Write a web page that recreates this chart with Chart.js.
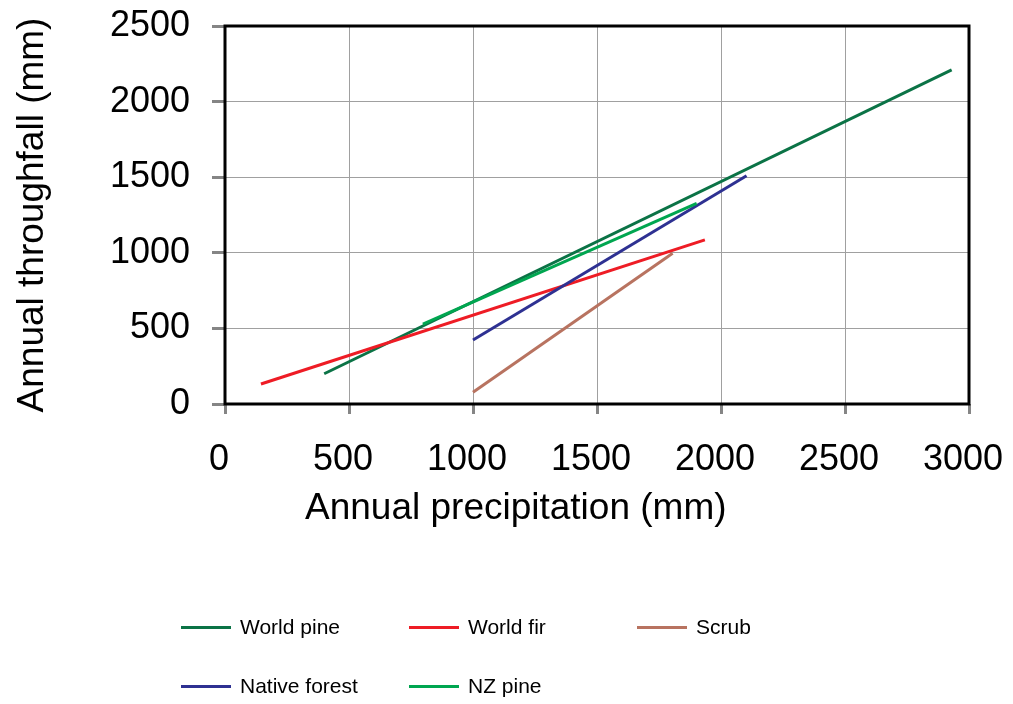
<!DOCTYPE html>
<html>
<head>
<meta charset="utf-8">
<script src="https://cdn.jsdelivr.net/npm/chart.js@4/dist/chart.umd.min.js"></script>
<style>
  html, body { margin:0; padding:0; background:#fff; }
  #wrap { position:relative; width:1013px; height:704px; }
  #chart { position:absolute; left:0; top:0; }
  .leg { position:absolute; font-family:"Liberation Sans", Arial, sans-serif; font-size:21px; color:#000; line-height:1; white-space:nowrap; }
  .leg i { position:absolute; width:50px; height:3px; }
  .leg span { position:absolute; }
</style>
</head>
<body>
<div id="wrap">
  <canvas id="chart" width="1013" height="704"></canvas>
  <div id="legend"></div>
</div>
<script>
// ===== Datos (extremos de cada recta de regresión) =====
const worldPineX    = [400, 2930];
const worldPineY    = [200, 2210];
const worldFirX     = [145, 1935];
const worldFirY     = [132, 1085];
const scrubX        = [1000, 1805];
const scrubY        = [78, 997];
const nativeForestX = [1000, 2103];
const nativeForestY = [423, 1510];
const nzPineX       = [798, 1902];
const nzPineY       = [529, 1327];

const seriesNames  = ['World pine', 'World fir', 'Scrub', 'Native forest', 'NZ pine'];
const seriesColors = ['#0b7346', '#ee1c25', '#b87360', '#2e3192', '#00a650'];

const xTicks = [0, 500, 1000, 1500, 2000, 2500, 3000];
const yTicks = [0, 500, 1000, 1500, 2000, 2500];

const xTitle = 'Annual precipitation (mm)';
const yTitle = 'Annual throughfall (mm)';

const FONT = '"Liberation Sans", Arial, sans-serif';

function toPoints(xs, ys){ return xs.map((x, i) => ({x, y: ys[i]})); }

const seriesData = [
  toPoints(worldPineX, worldPineY),
  toPoints(worldFirX, worldFirY),
  toPoints(scrubX, scrubY),
  toPoints(nativeForestX, nativeForestY),
  toPoints(nzPineX, nzPineY)
];

// orden de dibujo: NZ pine encima de World pine
const drawOrder = [4, 3, 2, 1, 0];

const datasets = seriesNames.map((name, i) => ({
  label: name,
  data: seriesData[i],
  showLine: true,
  borderColor: seriesColors[i],
  backgroundColor: seriesColors[i],
  borderWidth: 3,
  pointRadius: 0,
  fill: false,
  order: drawOrder[i]
}));

// tamaño fijo de los ejes, sin relleno extra por las etiquetas
function fixScale(s, size){
  if(s.isHorizontal()) s.height = size; else s.width = size;
  s.paddingTop = 0; s.paddingBottom = 0; s.paddingLeft = 0; s.paddingRight = 0;
}

// marco negro y títulos de ejes
const framePlugin = {
  id: 'frame',
  afterDatasetsDraw(chart){
    const {ctx, chartArea:{left, top, right, bottom}} = chart;
    ctx.save();
    ctx.strokeStyle = '#000';
    ctx.lineWidth = 3;
    ctx.strokeRect(left, top, right - left, bottom - top);
    ctx.restore();
  },
  afterDraw(chart){
    const ctx = chart.ctx;
    ctx.save();
    ctx.fillStyle = '#000';
    ctx.font = `37px ${FONT}`;
    ctx.textBaseline = 'alphabetic';
    ctx.textAlign = 'left';
    ctx.fillText(xTitle, 305, 519);
    ctx.translate(43, 215);
    ctx.rotate(-Math.PI / 2);
    ctx.textAlign = 'center';
    ctx.fillText(yTitle, 0, 0);
    ctx.restore();
  }
};

const plain = v => String(v);

new Chart(document.getElementById('chart'), {
  type: 'scatter',
  data: { datasets },
  options: {
    responsive: false,
    animation: false,
    layout: { padding: { left: 0, top: 26, right: 44, bottom: 170 } },
    plugins: { legend: { display: false }, tooltip: { enabled: false } },
    scales: {
      x: {
        type: 'linear', min: 0, max: 3000,
        afterBuildTicks: s => { s.ticks = xTicks.map(v => ({value: v})); },
        afterFit: s => fixScale(s, 130),
        border: { display: false },
        grid: { color: '#a0a0a0', lineWidth: 1, tickLength: 10, tickColor: '#858585', tickWidth: 3 },
        ticks: { color: '#000', font: { family: FONT, size: 36 }, padding: 24, labelOffset: -6, maxRotation: 0, callback: plain }
      },
      y: {
        type: 'linear', min: 0, max: 2500,
        afterBuildTicks: s => { s.ticks = yTicks.map(v => ({value: v})); },
        afterFit: s => fixScale(s, 225),
        border: { display: false },
        grid: { color: '#a0a0a0', lineWidth: 1, tickLength: 13, tickColor: '#858585', tickWidth: 3 },
        ticks: { color: '#000', font: { family: FONT, size: 36 }, padding: 22, callback: plain }
      }
    }
  },
  plugins: [framePlugin]
});

// leyenda en dos filas, tres columnas
const legendCols = [181, 409, 637];
const legendRows = [627, 686];
const legendEl = document.getElementById('legend');
seriesNames.forEach((name, i) => {
  const col = i % 3, row = Math.floor(i / 3);
  const item = document.createElement('div');
  item.className = 'leg';
  item.style.left = legendCols[col] + 'px';
  item.style.top = legendRows[row] + 'px';
  item.innerHTML = `<i style="left:0;top:-1px;background:${seriesColors[i]}"></i><span style="left:59px;top:-11px">${name}</span>`;
  legendEl.appendChild(item);
});
</script>
</body>
</html>
